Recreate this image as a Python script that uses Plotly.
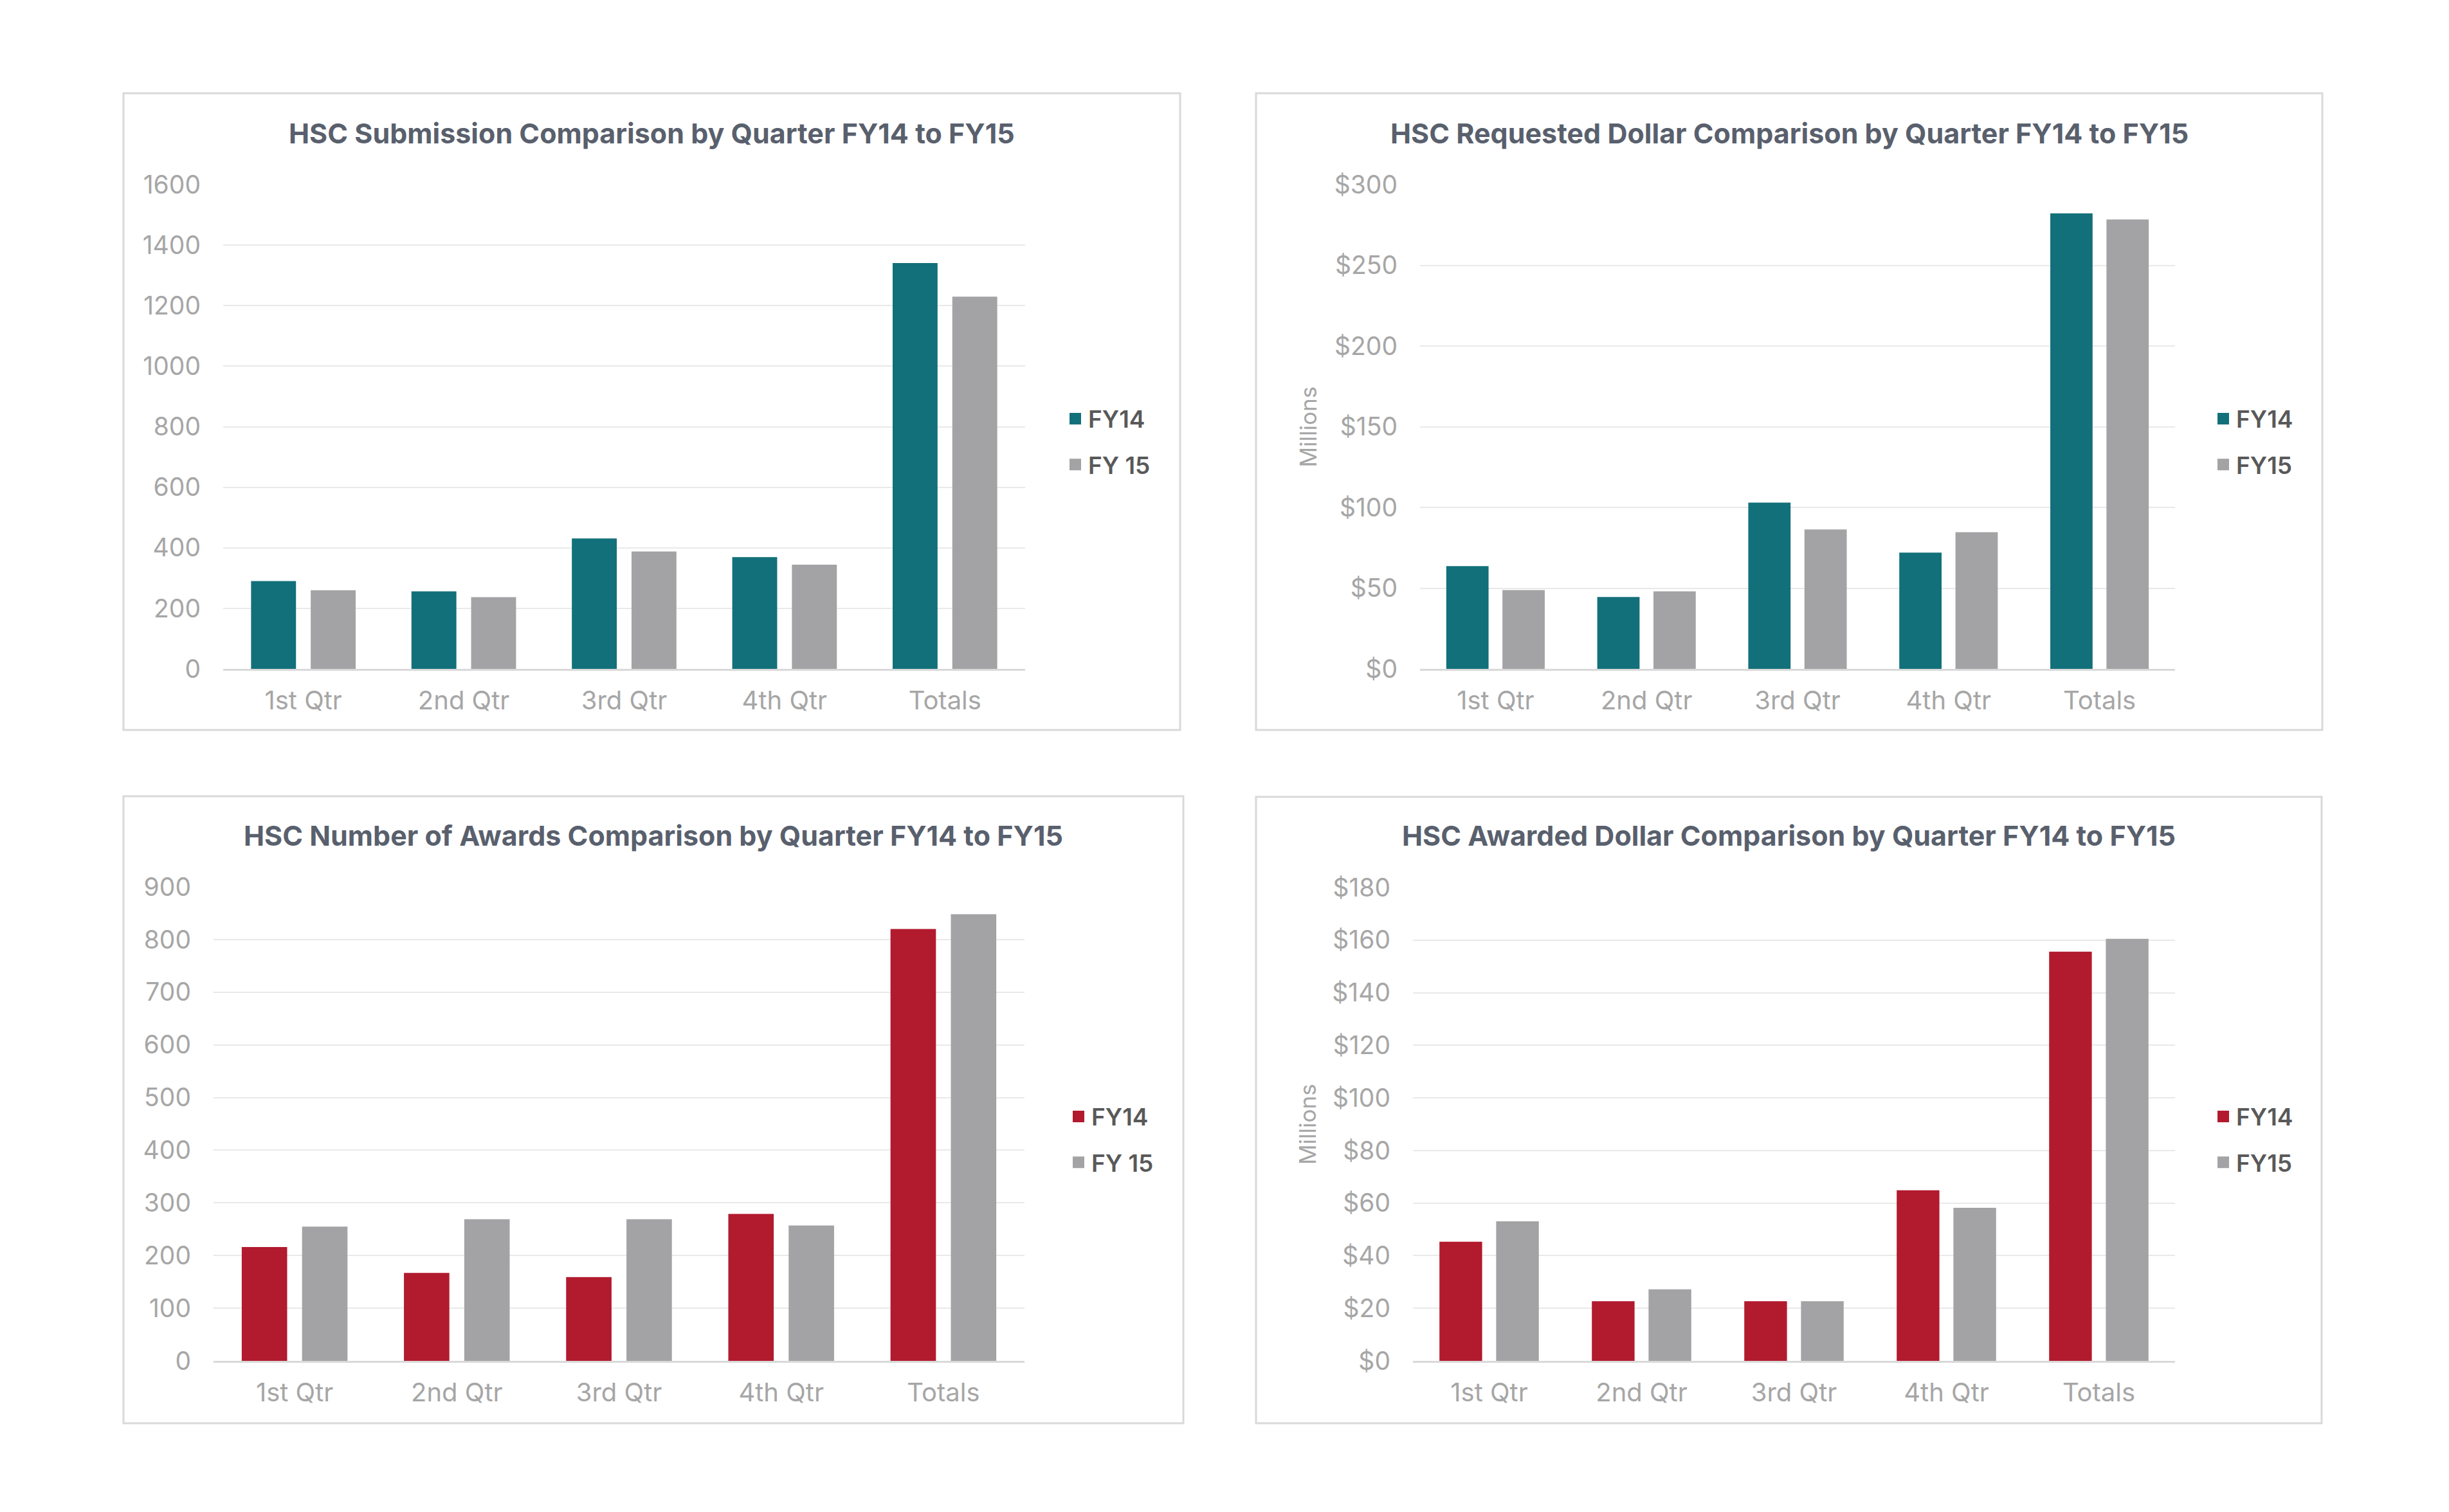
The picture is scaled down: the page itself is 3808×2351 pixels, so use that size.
import plotly.graph_objects as go

W, H = 3808, 2351
OFF = 8  # page body margin

categories = ["1st Qtr", "2nd Qtr", "3rd Qtr", "4th Qtr", "Totals"]

sub_fy14 = [290, 256, 431, 369, 1341]
sub_fy15 = [260, 237, 388, 344, 1230]

req_fy14 = [63.6, 44.5, 103, 72, 282.2]
req_fy15 = [48.8, 48, 86.4, 84.7, 278.4]

awd_fy14 = [216, 167, 159, 279, 820]
awd_fy15 = [255, 269, 269, 257, 848]

amt_fy14 = [45.3, 22.7, 22.7, 64.9, 155.6]
amt_fy15 = [53.1, 27.2, 22.7, 58.2, 160.5]

titles = [
    "HSC Submission Comparison by Quarter FY14 to FY15",
    "HSC Requested Dollar Comparison by Quarter FY14 to FY15",
    "HSC Number of Awards Comparison by Quarter FY14 to FY15",
    "HSC Awarded Dollar Comparison by Quarter FY14 to FY15",
]
legend_names = [("FY14", "FY 15"), ("FY14", "FY15"), ("FY14", "FY 15"), ("FY14", "FY15")]

TEAL = "#12707a"
RED = "#b21a2e"
GRAY = "#a3a3a5"
FONT = "Inter"
TICK_COLOR = "#a6a6a6"
TITLE_COLOR = "#59606d"
LEG_COLOR = "#595959"


def fx(px):
    return (px - OFF) / W


def fy(py):
    return 1 - (py - OFF) / H


panels = [
    dict(box=(192, 145, 1835, 1135), plot=(347, 287, 1594, 1040), ymax=1600, dtick=200, prefix="",
         color=TEAL, f14=sub_fy14, f15=sub_fy15, title_y=207, leg_x=1652, leg_y=687, millions=False),
    dict(box=(1953, 145, 3611, 1135), plot=(2208, 287, 3382, 1040), ymax=300, dtick=50, prefix="$",
         color=TEAL, f14=req_fy14, f15=req_fy15, title_y=207, leg_x=3437, leg_y=687, millions=True),
    dict(box=(192, 1238, 1840, 2213), plot=(332, 1379, 1593, 2116), ymax=900, dtick=100, prefix="",
         color=RED, f14=awd_fy14, f15=awd_fy15, title_y=1299, leg_x=1657, leg_y=1772, millions=False),
    dict(box=(1953, 1239, 3610, 2213), plot=(2197, 1380, 3382, 2116), ymax=180, dtick=20, prefix="$",
         color=RED, f14=amt_fy14, f15=amt_fy15, title_y=1299, leg_x=3437, leg_y=1772, millions=True),
]

fig = go.Figure()
layout = dict(
    width=W, height=H,
    margin=dict(l=0, r=0, t=0, b=0, autoexpand=False),
    paper_bgcolor="white", plot_bgcolor="white",
    barmode="group", bargap=0.256, bargroupgap=0.247,
    font=dict(family=FONT, color=TICK_COLOR),
    shapes=[], annotations=[],
)

for i, p in enumerate(panels):
    n = "" if i == 0 else str(i + 1)
    xa, ya = "x" + n, "y" + n
    leg = "legend" + n
    n14, n15 = legend_names[i]
    fig.add_trace(go.Bar(x=categories, y=p["f14"], name=n14, marker=dict(color=p["color"], line=dict(width=0)),
                         xaxis=xa, yaxis=ya, showlegend=False))
    fig.add_trace(go.Bar(x=categories, y=p["f15"], name=n15, marker=dict(color=GRAY, line=dict(width=0)),
                         xaxis=xa, yaxis=ya, showlegend=False))
    # legend keys (larger square swatches)
    for nm, col, grp in ((n14, p["color"], "a"), (n15, GRAY, "b")):
        fig.add_trace(go.Scatter(x=[None], y=[None], mode="markers", name=nm,
                                 marker=dict(symbol="square", size=16, color=col, line=dict(color=col, width=2)),
                                 xaxis=xa, yaxis=ya, legend=leg, legendgroup=f"g{i}{grp}", showlegend=True,
                                 hoverinfo="skip"))
    x0, y0, x1, y1 = p["plot"]
    layout["xaxis" + n] = dict(
        domain=[fx(x0), fx(x1)], anchor=ya, type="category", automargin=False,
        showline=True, linecolor="#d9d9d9", linewidth=3,
        showgrid=False, ticks="", ticklabelstandoff=12,
        tickfont=dict(family=FONT, size=40, color=TICK_COLOR),
        fixedrange=True,
    )
    layout["yaxis" + n] = dict(
        domain=[fy(y1), fy(y0)], anchor=xa, range=[0, p["ymax"]], dtick=p["dtick"], automargin=False,
        tickprefix=p["prefix"], showline=False, zeroline=False,
        showgrid=True, gridcolor="#e9e9e9", gridwidth=2, ticks="", ticklabelstandoff=34,
        tickfont=dict(family=FONT, size=39, color=TICK_COLOR),
        fixedrange=True,
    )
    layout[leg] = dict(
        x=fx(p["leg_x"]), y=fy(p["leg_y"]), xanchor="left", yanchor="middle",
        font=dict(family=FONT, size=37, color=LEG_COLOR, weight=600),
        bgcolor="rgba(0,0,0,0)", borderwidth=0, tracegroupgap=20, traceorder="grouped",
    )
    bx0, by0, bx1, by1 = p["box"]
    layout["shapes"].append(dict(type="rect", xref="paper", yref="paper",
                                 x0=fx(bx0), x1=fx(bx1), y0=fy(by1), y1=fy(by0),
                                 line=dict(color="#d9d9d9", width=3), fillcolor="rgba(0,0,0,0)", layer="below"))
    layout["annotations"].append(dict(
        text=titles[i], x=fx((bx0 + bx1) / 2), y=fy(p["title_y"]), xref="paper", yref="paper",
        xanchor="center", yanchor="middle", showarrow=False,
        font=dict(family=FONT, size=43, color=TITLE_COLOR, weight=700),
    ))
    if p["millions"]:
        layout["annotations"].append(dict(
            text="Millions", x=fx(2033), y=fy((y0 + y1) / 2), xref="paper", yref="paper",
            xanchor="center", yanchor="middle", showarrow=False, textangle=-90,
            font=dict(family=FONT, size=35, color=TICK_COLOR),
        ))

fig.update_layout(**layout)
fig.write_html("out.html")
